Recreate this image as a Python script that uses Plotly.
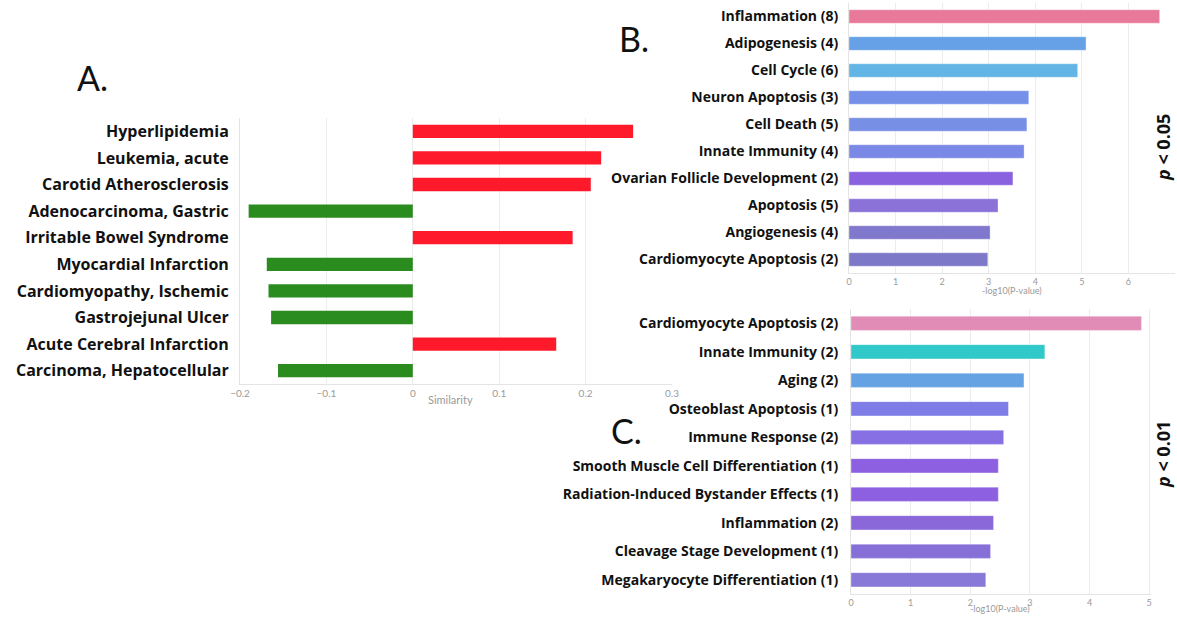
import plotly.graph_objects as go

W, H = 1177, 617

# Panel A data
a_labels = ["Hyperlipidemia", "Leukemia, acute", "Carotid Atherosclerosis", "Adenocarcinoma, Gastric",
            "Irritable Bowel Syndrome", "Myocardial Infarction", "Cardiomyopathy, Ischemic",
            "Gastrojejunal Ulcer", "Acute Cerebral Infarction", "Carcinoma, Hepatocellular"]
a_values = [0.255, 0.218, 0.206, -0.190, 0.185, -0.169, -0.167, -0.164, 0.166, -0.156]

# Panel B data
b_labels = ["Inflammation (8)", "Adipogenesis (4)", "Cell Cycle (6)", "Neuron Apoptosis (3)",
            "Cell Death (5)", "Innate Immunity (4)", "Ovarian Follicle Development (2)",
            "Apoptosis (5)", "Angiogenesis (4)", "Cardiomyocyte Apoptosis (2)"]
b_values = [6.67, 5.09, 4.91, 3.86, 3.82, 3.76, 3.52, 3.20, 3.03, 2.98]
b_colors = ["#e8799b", "#66a0e6", "#62b5e4", "#7590e8", "#7790e6", "#7a88e6",
            "#8a62e0", "#8a72d8", "#8078cc", "#7e78c8"]

# Panel C data
c_labels = ["Cardiomyocyte Apoptosis (2)", "Innate Immunity (2)", "Aging (2)", "Osteoblast Apoptosis (1)",
            "Immune Response (2)", "Smooth Muscle Cell Differentiation (1)",
            "Radiation-Induced Bystander Effects (1)", "Inflammation (2)",
            "Cleavage Stage Development (1)", "Megakaryocyte Differentiation (1)"]
c_values = [4.87, 3.25, 2.90, 2.64, 2.56, 2.47, 2.47, 2.39, 2.34, 2.26]
c_colors = ["#e08cb6", "#30c8c8", "#64a2e4", "#7e7ce6", "#8670e4", "#8c60e0",
            "#8c60e0", "#8a68da", "#8670d8", "#8878d8"]

a_colors = ["#ff1a2b" if v > 0 else "#2a8c1f" for v in a_values]


def px(x):
    return x / W


def py(y):
    return 1 - y / H


fig = go.Figure()
fig.add_trace(go.Bar(x=a_values, y=a_labels, orientation="h", width=0.5,
                     marker=dict(color=a_colors, line=dict(width=0)), xaxis="x", yaxis="y"))
fig.add_trace(go.Bar(x=b_values, y=b_labels, orientation="h", width=0.5,
                     marker=dict(color=b_colors, line=dict(width=1, color="rgba(255,255,255,0.35)")),
                     xaxis="x2", yaxis="y2"))
fig.add_trace(go.Bar(x=c_values, y=c_labels, orientation="h", width=0.5,
                     marker=dict(color=c_colors, line=dict(width=1, color="rgba(255,255,255,0.35)")),
                     xaxis="x3", yaxis="y3"))

LAB = "Open Sans, Lato, sans-serif"
tickf = dict(family="Lato, Open Sans, sans-serif", size=10, color="#9a9a9a")
labf = dict(family=LAB, color="#111111", weight="bold")
grid = "#ececec"

common_x = dict(showgrid=True, gridcolor=grid, zeroline=False, showline=True, linecolor="#e4e4e4",
                ticks="", tickfont=tickf, fixedrange=True, automargin=False)
common_y = dict(autorange="reversed", showgrid=False, zeroline=False, showline=True,
                linecolor="#e4e4e4", ticks="", fixedrange=True, automargin=False)

fig.update_layout(
    width=W, height=H, margin=dict(l=0, r=0, t=0, b=0, autoexpand=False),
    paper_bgcolor="white", plot_bgcolor="white", showlegend=False, hovermode=False,
    xaxis=dict(domain=[px(240), px(672)], range=[-0.2, 0.3], dtick=0.1, anchor="y", **common_x),
    yaxis=dict(domain=[py(384), py(118)], anchor="x", tickfont=dict(size=16, **labf),
               ticklabelstandoff=7, **common_y),
    xaxis2=dict(domain=[px(849), px(1175)], range=[0, 7], dtick=1, anchor="y2",
                **{**common_x, "tickfont": dict(tickf, size=9)}),
    yaxis2=dict(domain=[py(273), py(3)], anchor="x2", tickfont=dict(size=14, **labf),
                ticklabelstandoff=7, **common_y),
    xaxis3=dict(domain=[px(851), px(1151)], range=[0, 5.03], dtick=1, anchor="y3",
                **{**common_x, "tickfont": dict(tickf, size=9)}),
    yaxis3=dict(domain=[py(594), py(309)], anchor="x3", tickfont=dict(size=14, **labf),
                ticklabelstandoff=9, **common_y),
)

# axis titles
for txt, x, y, s in [("Similarity", 450, 399, 11), ("-log10(P-value)", 1012, 290, 9),
                     ("-log10(P-value)", 1000, 608, 9)]:
    fig.add_annotation(text=txt, x=px(x), y=py(y), xref="paper", yref="paper", showarrow=False,
                       font=dict(family="Lato, sans-serif", size=s, color="#9a9a9a"),
                       xanchor="center", yanchor="middle")

big = dict(family="Lato, Open Sans, sans-serif", size=34, color="#111111")
for txt, x, y in [("A.", 92, 78), ("B.", 634, 38), ("C.", 627, 430)]:
    fig.add_annotation(text=txt, x=px(x), y=py(y), xref="paper", yref="paper",
                       showarrow=False, font=big, xanchor="center", yanchor="middle")

pf = dict(family=LAB, size=18, color="#111111", weight="bold")
for txt, y in [("<i>p</i> < 0.05", 148), ("<i>p</i> < 0.01", 455)]:
    fig.add_annotation(text=txt, x=px(1163), y=py(y), xref="paper", yref="paper",
                       showarrow=False, font=pf, textangle=-90, xanchor="center", yanchor="middle")

fig.write_html("out.html", config={"displayModeBar": False, "staticPlot": True},
               post_script="document.body.style.margin='0';document.body.style.overflow='hidden';")
